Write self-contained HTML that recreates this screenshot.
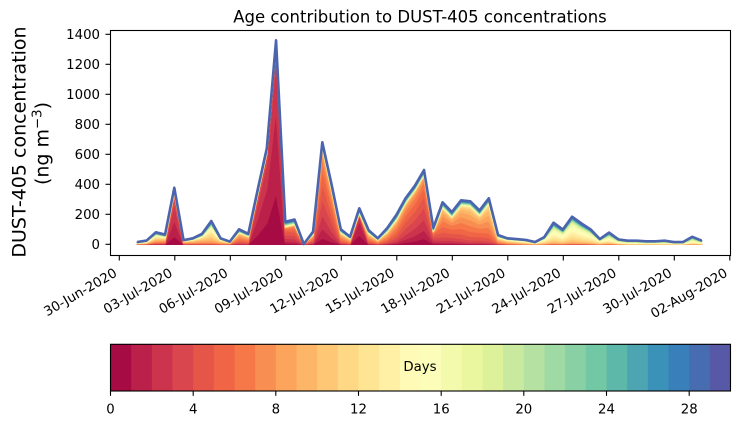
<!DOCTYPE html>
<html>
<head>
<meta charset="utf-8">
<style>
html,body{margin:0;padding:0;background:#fff;}
body{width:739px;height:425px;overflow:hidden;}
svg{display:block;}
text{font-family:"DejaVu Sans","Liberation Sans",sans-serif;fill:#000;}
.tk{font-size:13.3px;}
</style>
</head>
<body>
<svg id="s" width="739" height="425" viewBox="0 0 739 425" xmlns="http://www.w3.org/2000/svg">
<rect x="0" y="0" width="739" height="425" fill="#fff"/>
<g id="layers"></g>
<g id="cbar"></g>
<!-- axes frame -->
<rect x="110.5" y="30.5" width="620" height="225" fill="none" stroke="#000" stroke-width="1.1"/>
<!-- y ticks -->
<g stroke="#000" stroke-width="1.1">
<line x1="105.5" y1="244.3" x2="110.5" y2="244.3"/>
<line x1="105.5" y1="214.3" x2="110.5" y2="214.3"/>
<line x1="105.5" y1="184.3" x2="110.5" y2="184.3"/>
<line x1="105.5" y1="154.3" x2="110.5" y2="154.3"/>
<line x1="105.5" y1="124.3" x2="110.5" y2="124.3"/>
<line x1="105.5" y1="94.3" x2="110.5" y2="94.3"/>
<line x1="105.5" y1="64.3" x2="110.5" y2="64.3"/>
<line x1="105.5" y1="34.3" x2="110.5" y2="34.3"/>
</g>
<g class="tk" text-anchor="end">
<text x="100" y="249">0</text>
<text x="100" y="219">200</text>
<text x="100" y="189">400</text>
<text x="100" y="159">600</text>
<text x="100" y="129">800</text>
<text x="100" y="99">1000</text>
<text x="100" y="69">1200</text>
<text x="100" y="39">1400</text>
</g>
<!-- x ticks -->
<g stroke="#000" stroke-width="1.1">
<line x1="119.3" y1="255.5" x2="119.3" y2="260.5"/>
<line x1="174.8" y1="255.5" x2="174.8" y2="260.5"/>
<line x1="230.3" y1="255.5" x2="230.3" y2="260.5"/>
<line x1="285.8" y1="255.5" x2="285.8" y2="260.5"/>
<line x1="341.3" y1="255.5" x2="341.3" y2="260.5"/>
<line x1="396.8" y1="255.5" x2="396.8" y2="260.5"/>
<line x1="452.3" y1="255.5" x2="452.3" y2="260.5"/>
<line x1="507.8" y1="255.5" x2="507.8" y2="260.5"/>
<line x1="563.3" y1="255.5" x2="563.3" y2="260.5"/>
<line x1="618.8" y1="255.5" x2="618.8" y2="260.5"/>
<line x1="674.3" y1="255.5" x2="674.3" y2="260.5"/>
<line x1="729.8" y1="255.5" x2="729.8" y2="260.5"/>
</g>
<g class="tk" text-anchor="end">
<text transform="translate(118,275.5) rotate(-30)">30-Jun-2020</text>
<text transform="translate(173.5,275.5) rotate(-30)">03-Jul-2020</text>
<text transform="translate(229,275.5) rotate(-30)">06-Jul-2020</text>
<text transform="translate(284.5,275.5) rotate(-30)">09-Jul-2020</text>
<text transform="translate(340,275.5) rotate(-30)">12-Jul-2020</text>
<text transform="translate(395.5,275.5) rotate(-30)">15-Jul-2020</text>
<text transform="translate(451,275.5) rotate(-30)">18-Jul-2020</text>
<text transform="translate(506.5,275.5) rotate(-30)">21-Jul-2020</text>
<text transform="translate(562,275.5) rotate(-30)">24-Jul-2020</text>
<text transform="translate(617.5,275.5) rotate(-30)">27-Jul-2020</text>
<text transform="translate(673,275.5) rotate(-30)">30-Jul-2020</text>
<text transform="translate(728.5,275.5) rotate(-30)">02-Aug-2020</text>
</g>
<!-- title -->
<text x="420" y="22.3" text-anchor="middle" style="font-size:16.5px">Age contribution to DUST-405 concentrations</text>
<!-- y label -->
<text transform="translate(25.3,142) rotate(-90)" text-anchor="middle" style="font-size:19px">DUST-405 concentration</text>
<text transform="translate(48.5,143.5) rotate(-90)" text-anchor="middle" style="font-size:19px">(ng m<tspan dy="-7" style="font-size:13.3px">−3</tspan><tspan dy="7">)</tspan></text>
<!-- colorbar frame, ticks, labels -->
<rect x="110.5" y="344.3" width="620" height="46.7" fill="none" stroke="#000" stroke-width="1.1"/>
<g stroke="#000" stroke-width="1.1">
<line x1="110.5" y1="391" x2="110.5" y2="395.8"/>
<line x1="193.2" y1="391" x2="193.2" y2="395.8"/>
<line x1="275.8" y1="391" x2="275.8" y2="395.8"/>
<line x1="358.5" y1="391" x2="358.5" y2="395.8"/>
<line x1="441.2" y1="391" x2="441.2" y2="395.8"/>
<line x1="523.8" y1="391" x2="523.8" y2="395.8"/>
<line x1="606.5" y1="391" x2="606.5" y2="395.8"/>
<line x1="689.2" y1="391" x2="689.2" y2="395.8"/>
</g>
<g class="tk" text-anchor="middle">
<text x="110.5" y="413.5">0</text>
<text x="193.2" y="413.5">4</text>
<text x="275.8" y="413.5">8</text>
<text x="358.5" y="413.5">12</text>
<text x="441.2" y="413.5">16</text>
<text x="523.8" y="413.5">20</text>
<text x="606.5" y="413.5">24</text>
<text x="689.2" y="413.5">28</text>
</g>
<text x="420" y="371" text-anchor="middle" class="tk">Days</text>
</svg>
<script>
(function(){
var A=[[158,1,66],[213,62,79],[244,109,67],[253,174,97],[254,224,139],[255,255,191],[230,245,152],[171,221,164],[102,194,165],[50,136,189],[94,79,162]];
function cm(t){t=Math.max(0,Math.min(1,t));var p=t*10,i=Math.min(9,Math.floor(p)),f=p-i,a=A[i],b=A[i+1];
return 'rgb('+Math.round(a[0]+(b[0]-a[0])*f)+','+Math.round(a[1]+(b[1]-a[1])*f)+','+Math.round(a[2]+(b[2]-a[2])*f)+')';}
var NS='http://www.w3.org/2000/svg';
var N=30,cols=[];for(var k=0;k<N;k++)cols.push(cm((k+0.5)/N));
var cb=document.getElementById('cbar');
for(var k=0;k<N;k++){var r=document.createElementNS(NS,'rect');var x0=110.5+k*620/30;
r.setAttribute('x',x0.toFixed(2));r.setAttribute('y','344.3');r.setAttribute('width',(620/30+0.4).toFixed(2));r.setAttribute('height','46.7');r.setAttribute('fill',cols[k]);cb.appendChild(r);}
var D=[[15,10,5],[25,10,5],[80,9,4],[65,8,4],[377,1.5,1.2],[28,7,3],[40,8,3],[70,9,3],[155,11,3],[40,9,3],
[18,8,3],[100,6,2.5],[70,6,2.5],[360,1.3,1.2],[640,1.1,1.1],[1360,1.0,1.0],[150,3,2],[165,3.5,2],[2,6,3],[84,5,2.5],
[680,3.5,2.5],[400,4,2.5],[100,6,2.5],[50,7,2.5],[240,0.8,0.9],[95,6,2.5],[40,7,2.5],[107,6,2.5],[195,5,2.5],[307,4,2.5],
[390,3.5,2.5],[495,3,2.5],[110,3,2],[280,5.5,2.5],[215,5,2.5],[293,6,2.5],[287,6.5,2.5],[226,6,2.5],[307,7,2.5],[62,8,3],
[40,9,3],[35,10,3],[29,11,3],[15,11,3],[48,12,3],[144,13,3],[98,13,3],[184,13,3],[140,13,3],[100,13,3],
[35,12,3],[78,14,4],[33,14,4],[24,15,4],[24,15,4],[20,15,4],[20,15,4],[24,15,4],[15,15,4],[15,15,4],[50,15,4],[25,15,4]];
var M=D.length,X=[];
for(var i=0;i<M;i++){X.push(137.3+9.25*i);}
function Y(v){return 244.3-0.15*v;}
var L=[];
for(var i=0;i<M;i++){var T=D[i][0],c=D[i][1],s=D[i][2];var w=[],sw=0;
for(var k=0;k<N;k++){var e=Math.exp(-0.5*Math.pow((k-c)/s,2));w.push(e);sw+=e;}
var tw=[],stw=0;for(var k=0;k<N;k++){var q=(k>c)?(0.6+0.8*(k/29)):0.3;tw.push(q);stw+=q;}
var tailTot=Math.min(45,T*0.3);var rest=Math.max(0,T-tailTot);var row=[];
for(var k=0;k<N;k++)row.push(rest*w[k]/sw+tailTot*tw[k]/stw);L.push(row);}
var g=document.getElementById('layers');
var base=[];for(var i=0;i<M;i++)base.push(0);
for(var k=0;k<N;k++){var top=[];for(var i=0;i<M;i++)top.push(base[i]+L[i][k]);
var pts=[];for(var i=0;i<M;i++)pts.push(X[i].toFixed(2)+','+Y(top[i]).toFixed(2));
for(var i=M-1;i>=0;i--)pts.push(X[i].toFixed(2)+','+Y(base[i]).toFixed(2));
var p=document.createElementNS(NS,'polygon');p.setAttribute('points',pts.join(' '));
p.setAttribute('fill',cols[k]);p.setAttribute('stroke',cols[k]);p.setAttribute('stroke-width','1.3');p.setAttribute('stroke-linejoin','round');
g.appendChild(p);base=top;}
var tp=[];for(var i=0;i<M;i++)tp.push(X[i].toFixed(2)+','+Y(base[i]).toFixed(2));
var pl=document.createElementNS(NS,'polyline');pl.setAttribute('points',tp.join(' '));pl.setAttribute('fill','none');
pl.setAttribute('stroke','rgb(76,100,173)');pl.setAttribute('stroke-width','2.6');pl.setAttribute('stroke-linejoin','round');
g.appendChild(pl);
})();
</script>
</body>
</html>
